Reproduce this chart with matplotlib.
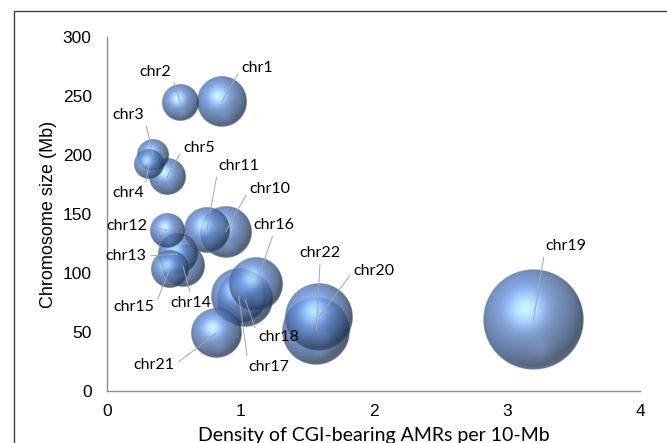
import numpy as np
import matplotlib
matplotlib.use('Agg')
import matplotlib.pyplot as plt
from matplotlib.patches import Rectangle

# chromosome bubbles: density (x), size in Mb (y), relative bubble area
chroms = ['chr1', 'chr2', 'chr3', 'chr4', 'chr5', 'chr10', 'chr11', 'chr12', 'chr13',
          'chr14', 'chr15', 'chr16', 'chr17', 'chr18', 'chr19', 'chr20', 'chr21', 'chr22']
density = [0.86, 0.55, 0.345, 0.315, 0.45, 0.89, 0.75, 0.45, 0.53,
           0.57, 0.47, 1.12, 0.99, 1.035, 3.20, 1.59, 0.82, 1.57]
chrom_size = [245, 244, 200, 192, 181, 135, 136, 136, 116,
              106, 103, 91, 80, 78, 60, 63, 49, 51]
bubble = [25, 13, 10, 9, 13, 27, 21, 12, 16,
          18, 14, 29, 31, 31, 100, 46, 25, 46]

xticks = [0, 1, 2, 3, 4]
yticks = [0, 50, 100, 150, 200, 250, 300]

# label placement (text centre in data units) and side the leader leaves from
label_pos = {
    'chr1': (1.126, 273.7, 'L'), 'chr2': (0.36, 270.3, 'R'), 'chr3': (0.158, 233.9, 'R'),
    'chr4': (0.158, 167.8, 'R'), 'chr5': (0.69, 205.9, 'L'), 'chr11': (0.99, 190.7, 'L'),
    'chr10': (1.223, 171.2, 'L'), 'chr12': (0.15, 139.8, 'R'), 'chr13': (0.143, 114.4, 'R'),
    'chr15': (0.203, 71.2, 'R'), 'chr14': (0.63, 74.6, 'T'), 'chr16': (1.253, 140.7, 'B'),
    'chr22': (1.60, 117.0, 'B'), 'chr20': (2.004, 101.7, 'L'), 'chr18': (1.29, 45.8, 'L'),
    'chr17': (1.216, 20.3, 'L'), 'chr21': (0.353, 22.0, 'R'), 'chr19': (3.445, 122.9, 'L'),
}
relpos = {'L': (0, 0.5), 'R': (1, 0.5), 'T': (0.5, 1), 'B': (0.5, 0)}


def sphere_image(n=240, alpha=0.8):
    v, u = np.mgrid[1:-1:n * 1j, -1:1:n * 1j]
    rr = np.sqrt(u ** 2 + v ** 2)
    w = np.sqrt(np.clip(1 - rr ** 2, 0, 1))
    L = np.array([-0.3, 0.4, 0.87])
    L = L / np.linalg.norm(L)
    H = L + np.array([0, 0, 1.0])
    H = H / np.linalg.norm(H)
    diff = np.clip(u * L[0] + v * L[1] + w * L[2], 0, 1)
    spec = np.clip(u * H[0] + v * H[1] + w * H[2], 0, 1) ** 14
    base = np.array([0.37, 0.53, 0.80])
    rgb = base[None, None, :] * (0.40 + 0.66 * diff)[..., None]
    rgb = rgb + 0.42 * spec[..., None] * np.array([0.85, 0.95, 1.0])
    # soft reflected light low in the sphere and a pale rim at the bottom edge
    glow = np.exp(-((u - 0.15) ** 2 + (v + 0.6) ** 2) / 0.06) * 0.10
    rim = (1 - w) ** 4 * np.clip(-v - 0.3, 0, 1) * 0.55
    rgb = rgb + glow[..., None] * np.array([0.6, 0.7, 0.9])
    rgb = rgb + rim[..., None] * np.array([0.5, 0.65, 0.95])
    rgb = np.clip(rgb, 0, 1)
    a = alpha * np.clip((1 - rr) * n / 2.5, 0, 1)
    return np.dstack([rgb, a])


fig = plt.figure(figsize=(6.67, 4.43), dpi=100)
ax = fig.add_axes([107 / 667, 52 / 443, 533 / 667, 354 / 443])
ax.set_xlim(0, 4)
ax.set_ylim(0, 300)

p0 = ax.transData.transform((0, 0))
p1 = ax.transData.transform((1, 1))
px_x, px_y = p1 - p0

img = sphere_image()
rmax = 50.0  # pixel radius of the largest bubble
bmax = max(bubble)
order = np.argsort(bubble)[::-1]
for i in order:
    r = rmax * np.sqrt(bubble[i] / bmax)
    rx, ry = r / px_x, r / px_y
    ax.imshow(img, extent=[density[i] - rx, density[i] + rx, chrom_size[i] - ry, chrom_size[i] + ry],
              aspect='auto', interpolation='bilinear', zorder=2)

for i, c in enumerate(chroms):
    tx, ty, side = label_pos[c]
    ax.annotate(c, xy=(density[i], chrom_size[i]), xytext=(tx, ty), ha='center', va='center',
                fontsize=11.5, family='Lato', color='black', zorder=5,
                arrowprops=dict(arrowstyle='-', color='#a6a6a6', lw=0.7, shrinkA=1, shrinkB=0,
                                relpos=relpos[side]))

ax.set_xlim(0, 4)
ax.set_ylim(0, 300)
ax.set_xticks(xticks)
ax.set_yticks(yticks)
ax.tick_params(length=0, labelsize=12.5, pad=11)
ax.tick_params(axis='x', pad=9)
for lab in ax.get_xticklabels() + ax.get_yticklabels():
    lab.set_family('Liberation Sans')
for s in ['top', 'right']:
    ax.spines[s].set_visible(False)
for s in ['left', 'bottom']:
    ax.spines[s].set_color('#8c8c8c')
    ax.spines[s].set_linewidth(1.0)

ax.set_ylabel('Chromosome size (Mb)', fontsize=13, family='Liberation Sans', labelpad=4)
ax.set_xlabel('Density of CGI-bearing AMRs per 10-Mb', fontsize=14, family='Lato', labelpad=6)

# chart area border (cut at the right and bottom)
fig.patches.append(Rectangle((14 / 667, -0.2), 1.0, 1.2 - 11 / 443, transform=fig.transFigure,
                             fill=False, edgecolor='#404040', lw=1.0))

plt.savefig('out.png', dpi=100)
